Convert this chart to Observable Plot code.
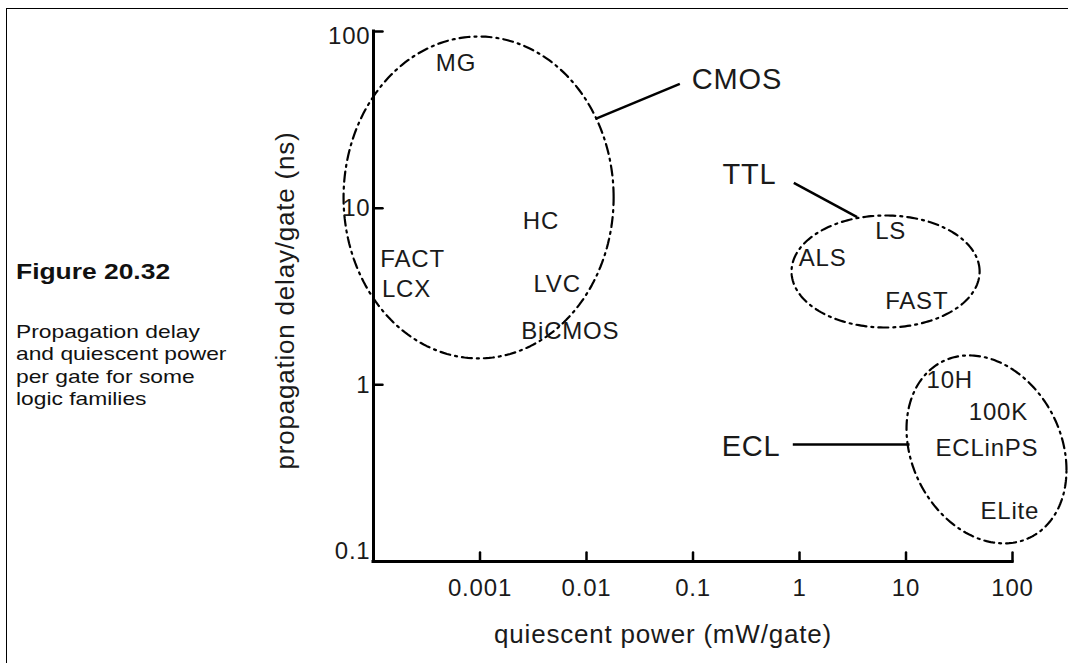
<!DOCTYPE html>
<html>
<head>
<meta charset="utf-8">
<script src="https://cdn.jsdelivr.net/npm/d3@7"></script>
<script src="https://cdn.jsdelivr.net/npm/@observablehq/plot@0.6"></script>
<style>
  body { margin: 0; background: #fff; }
  #wrap { position: relative; width: 1068px; height: 663px; overflow: hidden; background: #fff; }
  #chart { position: absolute; left: 0; top: 0; }
  #frame { position: absolute; left: 6px; top: 8px; right: -2px; bottom: -2px;
           border-left: 1px solid #000; border-top: 1px solid #000; pointer-events: none; }
  .cap { position: absolute; white-space: nowrap; transform-origin: 0 0; transform: scaleX(1.2);
         font-family: "Liberation Sans", Arial, sans-serif; color: #111; }
  #figtitle { left: 15.5px; top: 261.4px; font-size: 22px; line-height: 22px; font-weight: bold; }
  #figcap { left: 15.5px; top: 320.9px; font-size: 19px; line-height: 22.5px; }
</style>
</head>
<body>
<div id="wrap">
  <div id="chart"></div>
  <div id="frame"></div>
  <div id="figtitle" class="cap">Figure 20.32</div>
  <div id="figcap" class="cap">Propagation delay<br>and quiescent power<br>per gate for some<br>logic families</div>
</div>
<script>
// ---- axes ----
const xDomain = [0.0001, 100];
const yDomain = [0.1, 100];
const xTickValues = [0.001, 0.01, 0.1, 1, 10, 100];
const xTickLabels = ["0.001", "0.01", "0.1", "1", "10", "100"];
const yTickValues = [1, 10, 100];
const yTickLabelValues = [0.1, 1, 10, 100];
const yTickLabels = ["0.1", "1", "10", "100"];
const xTitle = "quiescent power (mW/gate)";
const yTitle = "propagation delay/gate (ns)";

// ---- logic family labels (anchor = text start, baseline) ----
const chipNames  = ["MG", "HC", "FACT", "LCX", "LVC", "BiCMOS", "LS", "ALS", "FAST", "10H", "100K", "ECLinPS", "ELite"];
const chipPower  = [0.000385, 0.00252, 0.000116, 0.00012, 0.00318, 0.00244, 5.14, 0.984, 6.37, 15.6, 38.9, 18.9, 50.1];
const chipDelay  = [59.6, 7.64, 4.63, 3.13, 3.34, 1.82, 6.70, 4.73, 2.69, 0.962, 0.634, 0.393, 0.175];

// ---- family group labels ----
const familyNames = ["CMOS", "TTL", "ECL"];
const familyLabelPower = [0.0975, 0.189, 0.186];
const familyLabelDelay = [47.3, 13.7, 0.398];

// ---- leader lines ----
const leaderPower1 = [0.0752, 0.884, 0.865];
const leaderDelay1 = [50.5, 13.9, 0.459];
const leaderPower2 = [0.01216, 3.48, 10.8];
const leaderDelay2 = [32.0, 8.89, 0.459];

// ---- family ellipses (centre; half-widths in decades; tilt phase) ----
const ellipseCenterPower = [0.00097, 6.43, 57.0];
const ellipseCenterDelay = [11.5, 4.38, 0.431];
const ellipseHalfDecadesX = [1.268, 0.883, 0.751];
const ellipseHalfDecadesY = [0.911, 0.317, 0.532];
const ellipseTilt = [0, 0, -0.22];

// build tables
const chips = chipNames.map((name, i) => ({name, power: chipPower[i], delay: chipDelay[i]}));
const families = familyNames.map((name, i) => ({name, power: familyLabelPower[i], delay: familyLabelDelay[i]}));
const leaders = familyNames.map((name, i) => ({name, x1: leaderPower1[i], y1: leaderDelay1[i], x2: leaderPower2[i], y2: leaderDelay2[i]}));
const ellipsePoints = [];
familyNames.forEach((name, i) => {
  const N = 240;
  const lx0 = Math.log10(ellipseCenterPower[i]), ly0 = Math.log10(ellipseCenterDelay[i]);
  for (let k = 0; k <= N; k++) {
    const t = 2 * Math.PI * k / N;
    ellipsePoints.push({
      name,
      power: Math.pow(10, lx0 + ellipseHalfDecadesX[i] * Math.cos(t)),
      delay: Math.pow(10, ly0 + ellipseHalfDecadesY[i] * Math.sin(t + ellipseTilt[i]))
    });
  }
});

const tickShape = {draw(context, l) { context.moveTo(0, 0); context.lineTo(0, -l); }};
const ink = "#1a1a1a";

const chart = Plot.plot({
  width: 1068,
  height: 663,
  marginLeft: 373,
  marginRight: 56,
  marginTop: 31,
  marginBottom: 102,
  style: {fontFamily: "'Liberation Sans', Arial, Helvetica, sans-serif", fontSize: "24px", color: ink, background: "transparent", letterSpacing: "0.8px"},
  x: {type: "log", domain: xDomain, axis: null},
  y: {type: "log", domain: yDomain, axis: null},
  marks: [
    // family ellipses
    Plot.line(ellipsePoints, {x: "power", y: "delay", z: "name", stroke: "#000", strokeWidth: 2.2, strokeDasharray: "10,5,2,5", curve: "linear"}),
    // leaders
    Plot.link(leaders, {x1: "x1", y1: "y1", x2: "x2", y2: "y2", stroke: "#000", strokeWidth: 2.5}),
    // axis lines
    Plot.ruleY([yDomain[0]], {stroke: "#000", strokeWidth: 3, strokeLinecap: "square"}),
    Plot.ruleX([xDomain[0]], {stroke: "#000", strokeWidth: 3, strokeLinecap: "square"}),
    // ticks (inward)
    Plot.vector(xTickValues, {x: d => d, y: yDomain[0], length: 9, rotate: 0, anchor: "start", shape: tickShape, stroke: "#000", strokeWidth: 2.5}),
    Plot.vector(yTickValues, {x: xDomain[0], y: d => d, length: 9, rotate: 90, anchor: "start", shape: tickShape, stroke: "#000", strokeWidth: 2.5}),
    // tick labels
    Plot.text(xTickValues, {x: d => d, y: yDomain[0], text: (d, i) => xTickLabels[i], lineAnchor: "top", dy: 17, fill: ink}),
    Plot.text(yTickLabelValues, {filter: d => d > yDomain[0] && d < yDomain[1], x: xDomain[0], y: d => d, text: d => yTickLabels[yTickLabelValues.indexOf(d)], textAnchor: "end", lineAnchor: "middle", dx: -3, fill: ink}),
    Plot.text(yTickLabelValues, {filter: d => d === yDomain[1], x: xDomain[0], y: d => d, text: d => yTickLabels[yTickLabelValues.indexOf(d)], textAnchor: "end", lineAnchor: "middle", dx: -3, dy: 5, fill: ink}),
    Plot.text(yTickLabelValues, {filter: d => d === yDomain[0], x: xDomain[0], y: d => d, text: d => yTickLabels[yTickLabelValues.indexOf(d)], textAnchor: "end", lineAnchor: "middle", dx: -3, dy: -10, fill: ink}),
    // axis titles
    Plot.text([xTitle], {text: d => d, frameAnchor: "bottom", textAnchor: "middle", lineAnchor: "bottom", dx: -30, dy: 81, fontSize: 26, fill: ink}),
    Plot.text([yTitle], {text: d => d, frameAnchor: "left", textAnchor: "middle", rotate: -90, lineAnchor: "bottom", dx: -80, dy: 4, fontSize: 26, fill: ink}),
    // chip labels
    Plot.text(chips, {x: "power", y: "delay", text: "name", textAnchor: "start", lineAnchor: "bottom", fontSize: 24, fill: ink}),
    // family labels
    Plot.text(families, {x: "power", y: "delay", text: "name", textAnchor: "start", lineAnchor: "bottom", fontSize: 29, fill: ink, letterSpacing: "1.5px"})
  ]
});
document.getElementById("chart").appendChild(chart);
</script>
</body>
</html>
